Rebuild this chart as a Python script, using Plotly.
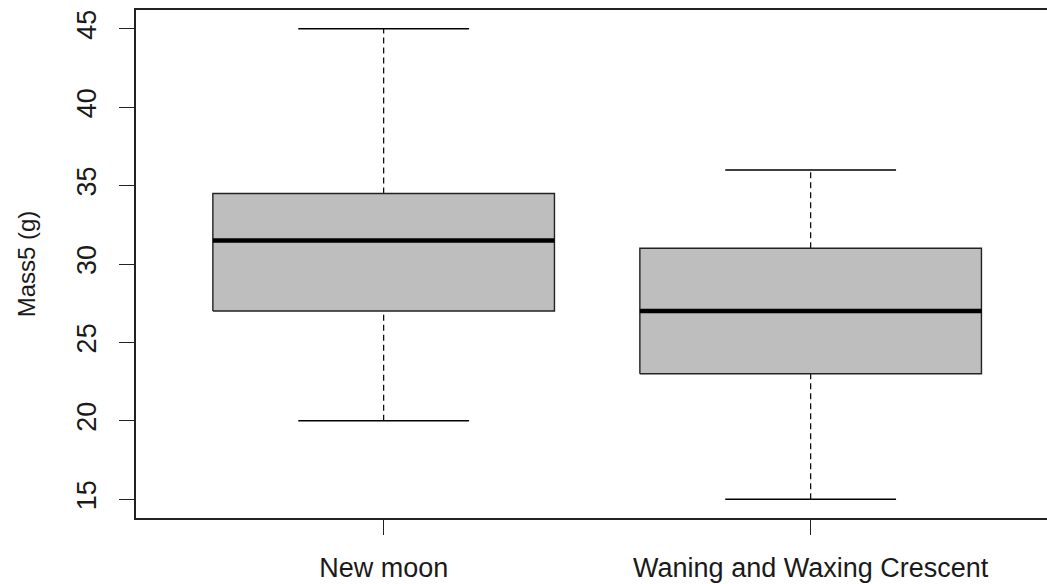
import plotly.graph_objects as go

categories = ["New moon", "Waning and Waxing Crescent"]
whisker_low = [20, 15]
q1 = [27, 23]
median = [31.5, 27]
q3 = [34.5, 31]
whisker_high = [45, 36]
y_ticks = [15, 20, 25, 30, 35, 40, 45]

FONT = "Liberation Sans, Arial, sans-serif"
fig = go.Figure()
half = 0.4
cap = 0.2
for i, cat in enumerate(categories):
    x = i + 1
    # whiskers (dashed)
    fig.add_trace(go.Scatter(x=[x, x], y=[q3[i], whisker_high[i]], mode="lines",
                             line=dict(color="black", width=1.2, dash="6px,4px"), hoverinfo="skip"))
    fig.add_trace(go.Scatter(x=[x, x], y=[whisker_low[i], q1[i]], mode="lines",
                             line=dict(color="black", width=1.2, dash="6px,4px"), hoverinfo="skip"))
    # caps
    for v in (whisker_low[i], whisker_high[i]):
        fig.add_trace(go.Scatter(x=[x - cap, x + cap], y=[v, v], mode="lines",
                                 line=dict(color="black", width=1.4), hoverinfo="skip"))
    # box
    fig.add_trace(go.Scatter(x=[x - half, x + half, x + half, x - half, x - half],
                             y=[q1[i], q1[i], q3[i], q3[i], q1[i]], mode="lines",
                             fill="toself", fillcolor="#BEBEBE",
                             line=dict(color="#222222", width=1.4), name=cat, hoverinfo="skip"))
    # median
    fig.add_trace(go.Scatter(x=[x - half, x + half], y=[median[i], median[i]], mode="lines",
                             line=dict(color="black", width=4.5), hoverinfo="skip"))

fig.update_layout(
    width=1047, height=584,
    margin=dict(l=136, r=0, t=10, b=66),
    paper_bgcolor="white", plot_bgcolor="white",
    showlegend=False,
    font=dict(family=FONT, size=27, color="#1a1a1a"),
    xaxis=dict(range=[0.42, 0.42 + 911 / 427], tickvals=[1, 2], ticktext=categories,
               showgrid=False, zeroline=False, showline=True, mirror=True,
               linecolor="#222222", linewidth=1.5, ticks="outside", ticklen=15,
               tickwidth=1.4, tickcolor="#222222", ticklabelstandoff=10,
               tickfont=dict(size=27)),
    yaxis=dict(range=[13.8, 46.2], tickvals=y_ticks, ticktext=[str(t) for t in y_ticks],
               showgrid=False, zeroline=False, showline=True, mirror=False,
               linecolor="#222222", linewidth=1.5, ticks="outside", ticklen=15,
               tickwidth=1.4, tickcolor="#222222", tickangle=-90, ticklabelstandoff=12,
               tickfont=dict(size=27),
               title=dict(text="Mass5 (g)", font=dict(size=24), standoff=30)),
)

fig.write_html("out.html")
